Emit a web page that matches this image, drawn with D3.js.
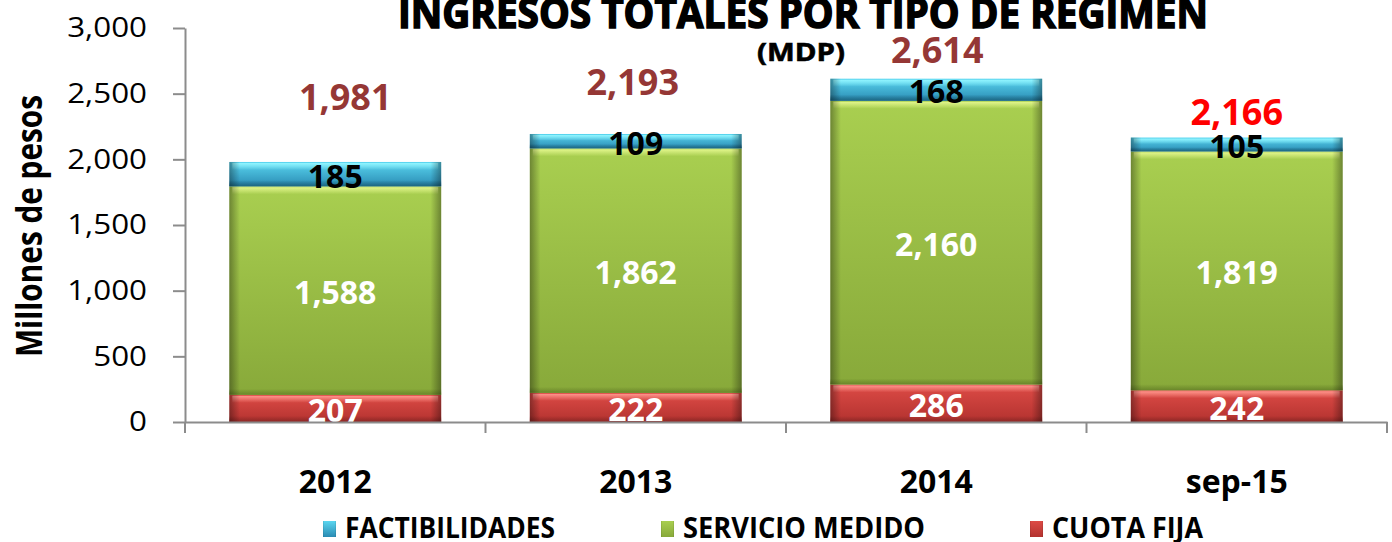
<!DOCTYPE html>
<html lang="es">
<head>
<meta charset="UTF-8">
<title>Ingresos totales por tipo de régimen</title>
<script src="https://d3js.org/d3.v7.min.js"></script>
<style>
  body { margin: 0; background: #fff; }
  svg text { font-family: "Open Sans", sans-serif; }
  .axis path, .axis line { stroke: #8c8c8c; stroke-width: 2px; }
</style>
</head>
<body>
<div id="chart"></div>
<script>
// values (MDP)
const categories = ["2012", "2013", "2014", "sep-15"];
const cuotaFija = [207, 222, 286, 242];
const servicioMedido = [1588, 1862, 2160, 1819];
const factibilidades = [185, 109, 168, 105];
const totals = [1981, 2193, 2614, 2166];
const yTicks = [0, 500, 1000, 1500, 2000, 2500, 3000];

// total labels were placed by hand in the original, keep that look
const totalColors = ["#953735", "#953735", "#953735", "#ff0000"];
const totalLift = [65, 52, 29, 25];
const totalShift = [10, -3, 1, 0];

const series = [
  { key: "cuota", name: "CUOTA FIJA", values: cuotaFija, label: "#fff",
    top: "#dd4b46", bottom: "#b3322f", hi: "#ff948c", lo: "#8c2826" },
  { key: "servicio", name: "SERVICIO MEDIDO", values: servicioMedido, label: "#fff",
    top: "#a9cf50", bottom: "#88a93a", hi: "#e2f68c", lo: "#6a862a" },
  { key: "factib", name: "FACTIBILIDADES", values: factibilidades, label: "#000",
    top: "#5ad6f0", bottom: "#2a8bb3", hi: "#92f5ff", lo: "#1d6782" }
];
const legendOrder = ["factib", "servicio", "cuota"];
const legendX = [323, 661, 1030];
const legendLen = [210, 242, 151];

const width = 1392, height = 542;

const svg = d3.select("#chart").append("svg")
  .attr("width", width)
  .attr("height", height);

const defs = svg.append("defs");

series.forEach(s => {
  const g = defs.append("linearGradient").attr("id", "base-" + s.key)
    .attr("x1", 0).attr("y1", 0).attr("x2", 0).attr("y2", 1);
  g.append("stop").attr("offset", "0%").attr("stop-color", s.top);
  g.append("stop").attr("offset", "100%").attr("stop-color", s.bottom);

  const h = defs.append("linearGradient").attr("id", "hi-" + s.key)
    .attr("x1", 0).attr("y1", 0).attr("x2", 0).attr("y2", 1);
  h.append("stop").attr("offset", "0%").attr("stop-color", s.hi).attr("stop-opacity", 1);
  h.append("stop").attr("offset", "100%").attr("stop-color", s.hi).attr("stop-opacity", 0);

  const l = defs.append("linearGradient").attr("id", "lo-" + s.key)
    .attr("x1", 0).attr("y1", 0).attr("x2", 0).attr("y2", 1);
  l.append("stop").attr("offset", "0%").attr("stop-color", s.lo).attr("stop-opacity", 0);
  l.append("stop").attr("offset", "100%").attr("stop-color", s.lo).attr("stop-opacity", 1);
});

const edge = defs.append("linearGradient").attr("id", "edge")
  .attr("x1", 0).attr("y1", 0).attr("x2", 1).attr("y2", 0);
[[0, 0.35], [0.05, 0], [0.95, 0], [1, 0.35]].forEach(([o, a]) => {
  edge.append("stop").attr("offset", o).attr("stop-color", "#000").attr("stop-opacity", a);
});

defs.append("clipPath").attr("id", "plot")
  .append("rect").attr("x", 185).attr("y", 0).attr("width", 1202).attr("height", 422);

const x = d3.scaleBand()
  .domain(categories)
  .range([185, 1387])
  .paddingInner(0.295)
  .paddingOuter(0.1475);

const y = d3.scaleLinear()
  .domain([0, 3000])
  .range([422, 28]);

// stacked data
const table = categories.map((c, i) => {
  const row = { cat: c };
  series.forEach(s => { row[s.key] = s.values[i]; });
  return row;
});
const stacked = d3.stack().keys(series.map(s => s.key))(table);

// bars
const bars = svg.append("g");
stacked.forEach((layer, li) => {
  const s = series[li];
  const seg = bars.selectAll(".seg-" + s.key)
    .data(layer)
    .enter()
    .append("g")
    .attr("class", "seg-" + s.key);

  seg.append("rect")
    .attr("x", d => x(d.data.cat))
    .attr("y", d => y(d[1]))
    .attr("width", x.bandwidth())
    .attr("height", d => y(d[0]) - y(d[1]))
    .attr("fill", "url(#base-" + s.key + ")");

  seg.append("rect")
    .attr("x", d => x(d.data.cat) + 3)
    .attr("y", d => y(d[1]) + 1)
    .attr("width", x.bandwidth() - 6)
    .attr("height", d => Math.min(7, (y(d[0]) - y(d[1])) * 0.4))
    .attr("fill", "url(#hi-" + s.key + ")");

  seg.append("rect")
    .attr("x", d => x(d.data.cat))
    .attr("y", d => y(d[0]) - Math.min(6, (y(d[0]) - y(d[1])) * 0.3))
    .attr("width", x.bandwidth())
    .attr("height", d => Math.min(6, (y(d[0]) - y(d[1])) * 0.3))
    .attr("fill", "url(#lo-" + s.key + ")");

  seg.append("rect")
    .attr("x", d => x(d.data.cat))
    .attr("y", d => y(d[1]))
    .attr("width", x.bandwidth())
    .attr("height", d => y(d[0]) - y(d[1]))
    .attr("fill", "url(#edge)");
});

// segment labels
const labels = svg.append("g").attr("clip-path", "url(#plot)");
stacked.forEach((layer, li) => {
  const s = series[li];
  labels.selectAll(".lab-" + s.key)
    .data(layer)
    .enter()
    .append("text")
    .attr("x", d => x(d.data.cat) + x.bandwidth() / 2)
    .attr("y", d => (y(d[0]) + y(d[1])) / 2 + 2)
    .attr("dy", "0.36em")
    .attr("text-anchor", "middle")
    .attr("font-size", 32)
    .attr("font-weight", 700)
    .attr("fill", s.label)
    .text(d => d3.format(",")(d[1] - d[0]));
});

// totals
svg.append("g").selectAll("text")
  .data(totals)
  .enter()
  .append("text")
  .attr("x", (d, i) => x(categories[i]) + x.bandwidth() / 2 + totalShift[i])
  .attr("y", (d, i) => y(d3.sum(series, s => s.values[i])) - totalLift[i])
  .attr("dy", "0.36em")
  .attr("text-anchor", "middle")
  .attr("font-size", 36)
  .attr("font-weight", 700)
  .attr("fill", (d, i) => totalColors[i])
  .text(d => d3.format(",")(d));

// y axis
const yAxis = svg.append("g")
  .attr("class", "axis")
  .attr("transform", "translate(185,0)")
  .call(d3.axisLeft(y).tickValues(yTicks).tickSize(12).tickSizeOuter(0).tickFormat(d3.format(",")));
yAxis.selectAll("text")
  .attr("x", -38 / 1.12)
  .attr("transform", "scale(1.12,1)")
  .attr("font-size", 28)
  .attr("fill", "#000");

// x axis: line, boundary ticks and category labels
const xAxis = svg.append("g")
  .attr("class", "axis")
  .attr("transform", "translate(0,422)")
  .call(d3.axisBottom(x).tickSize(0).tickSizeOuter(0).tickPadding(48));
xAxis.selectAll("text")
  .attr("font-size", 32)
  .attr("font-weight", 700)
  .attr("fill", "#000");

const gap = (x.step() - x.bandwidth()) / 2;
const bounds = categories.map(c => x(c) - gap).concat([x(categories[categories.length - 1]) + x.bandwidth() + gap]);
xAxis.selectAll(".bound")
  .data(bounds)
  .enter()
  .append("line")
  .attr("class", "bound")
  .attr("x1", d => d).attr("x2", d => d)
  .attr("y1", 0).attr("y2", 11);

// y axis title
svg.append("text")
  .attr("transform", "translate(42,226) rotate(-90)")
  .attr("text-anchor", "middle")
  .attr("font-size", 36)
  .attr("font-weight", 700)
  .attr("textLength", 262)
  .attr("lengthAdjust", "spacingAndGlyphs")
  .attr("fill", "#000")
  .text("Millones de pesos");

// title
svg.append("text")
  .attr("x", 398)
  .attr("y", 28)
  .attr("font-family", "'Liberation Sans', Arial, sans-serif")
  .attr("font-size", 42)
  .attr("font-weight", 700)
  .attr("textLength", 810)
  .attr("lengthAdjust", "spacingAndGlyphs")
  .attr("stroke", "#000")
  .attr("stroke-width", 1.6)
  .attr("fill", "#000")
  .text("INGRESOS TOTALES POR TIPO DE REGIMEN");

svg.append("text")
  .attr("x", 757)
  .attr("y", 61)
  .attr("font-family", "'Liberation Sans', Arial, sans-serif")
  .attr("font-size", 25)
  .attr("font-weight", 700)
  .attr("textLength", 88)
  .attr("lengthAdjust", "spacingAndGlyphs")
  .attr("stroke", "#000")
  .attr("stroke-width", 0.6)
  .attr("fill", "#000")
  .text("(MDP)");

// legend
const legend = svg.append("g");
legendOrder.forEach((k, i) => {
  const s = series.find(d => d.key === k);
  legend.append("rect")
    .attr("x", legendX[i])
    .attr("y", 521)
    .attr("width", 13)
    .attr("height", 16)
    .attr("fill", "url(#base-" + s.key + ")");
  legend.append("rect")
    .attr("x", legendX[i])
    .attr("y", 521)
    .attr("width", 13)
    .attr("height", 16)
    .attr("fill", "url(#edge)");
  legend.append("text")
    .attr("x", legendX[i] + 22)
    .attr("y", 538)
    .attr("font-size", 29)
    .attr("font-weight", 700)
    .attr("textLength", legendLen[i])
    .attr("lengthAdjust", "spacingAndGlyphs")
    .attr("fill", "#000")
    .text(s.name);
});
</script>
</body>
</html>
